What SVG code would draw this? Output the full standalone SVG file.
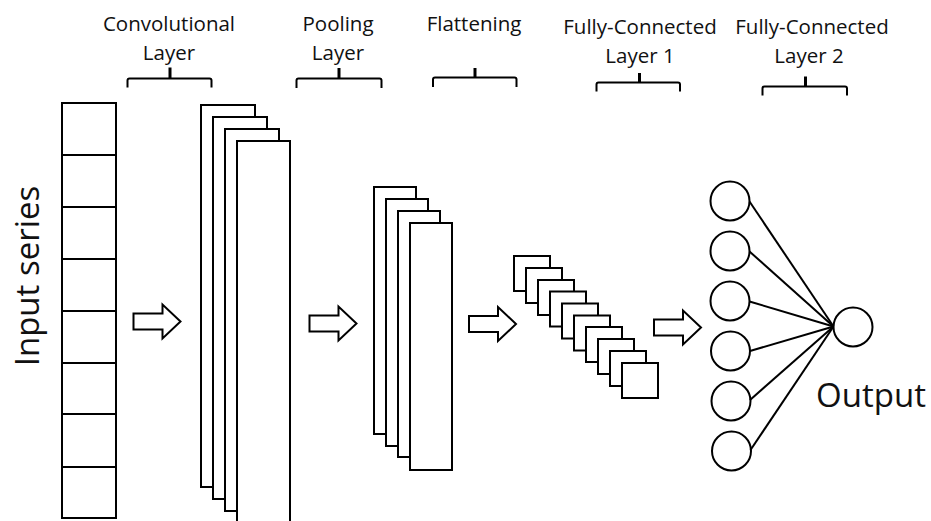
<svg xmlns="http://www.w3.org/2000/svg" xmlns:xlink="http://www.w3.org/1999/xlink" width="931" height="521" viewBox="0 0 931 521">
  <style>
    .box { fill: #ffffff; stroke: #000000; stroke-width: 2; }
    .node { fill: #ffffff; stroke: #000000; stroke-width: 2; }
    .brace { fill: none; stroke: #000000; stroke-width: 2; }
    .tick { fill: none; stroke: #000000; stroke-width: 3; }
    .link { stroke: #000000; stroke-width: 2; }
    .flow { fill: #ffffff; stroke: #000000; stroke-width: 2; stroke-linejoin: miter; }
    .lbl { font-family: "Open Sans", "Noto Sans", sans-serif; font-size: 20.5px; fill: #111111; text-anchor: middle; }
    .big { font-family: "Open Sans", "Noto Sans", sans-serif; font-size: 33px; fill: #111111; text-anchor: middle; }
  </style>
  <defs>
    <!-- hollow block arrow, origin at the middle of the tail -->
    <path id="blockArrow" d="M0,-8 L29,-8 L29,-17 L47,0 L29,17 L29,8 L0,8 Z"/>
    <rect id="sq" width="36" height="35"/>
  </defs>

  <rect width="931" height="521" fill="#ffffff"/>

  <!-- layer captions with braces -->
  <g id="captions">
    <text class="lbl" x="169" y="30.5">Convolutional</text>
    <text class="lbl" x="169" y="60">Layer</text>
    <text class="lbl" x="338" y="30.5">Pooling</text>
    <text class="lbl" x="338" y="60">Layer</text>
    <text class="lbl" x="474" y="30.5">Flattening</text>
    <text class="lbl" x="640" y="33.5">Fully-Connected</text>
    <text class="lbl" x="640" y="62.5">Layer 1</text>
    <text class="lbl" x="812" y="33.5">Fully-Connected</text>
    <text class="lbl" x="809" y="62.5">Layer 2</text>

    <path class="brace" d="M127.5,87.5 V80.5 Q127.5,78.5 129.5,78.5 H209.5 Q211.5,78.5 211.5,80.5 V87.5"/>
    <path class="tick" d="M170,78.5 V67.5"/>
    <path class="brace" d="M296.5,88 V80.5 Q296.5,78.5 298.5,78.5 H379.5 Q381.5,78.5 381.5,80.5 V88"/>
    <path class="tick" d="M339,78.5 V68"/>
    <path class="brace" d="M433,87 V79.5 Q433,77.5 435,77.5 H514.5 Q516.5,77.5 516.5,79.5 V87"/>
    <path class="tick" d="M475,77.5 V68"/>
    <path class="brace" d="M596.5,91.5 V84.5 Q596.5,82.5 598.5,82.5 H678 Q680,82.5 680,84.5 V91.5"/>
    <path class="tick" d="M639.5,82.5 V73"/>
    <path class="brace" d="M762.5,95.5 V88.5 Q762.5,86.5 764.5,86.5 H845 Q847,86.5 847,88.5 V95.5"/>
    <path class="tick" d="M805.5,86.5 V76.5"/>
  </g>

  <!-- input sequence -->
  <g id="input-series">
    <rect class="box" x="62" y="103" width="54" height="415"/>
    <path class="brace" d="M62,155 H116 M62,207 H116 M62,259 H116 M62,311 H116 M62,363 H116 M62,414 H116 M62,467 H116"/>
    <text class="big" transform="translate(38.5,276) rotate(-90)">Input series</text>
  </g>

  <!-- convolutional feature maps -->
  <g id="conv-layer">
    <rect class="box" x="201" y="105" width="54" height="382"/>
    <rect class="box" x="213" y="117" width="54" height="382"/>
    <rect class="box" x="225" y="129" width="54" height="382"/>
    <rect class="box" x="237" y="141" width="53" height="390"/>
  </g>

  <!-- pooled feature maps -->
  <g id="pooling-layer">
    <rect class="box" x="374" y="187" width="42" height="247"/>
    <rect class="box" x="386" y="199" width="42" height="247"/>
    <rect class="box" x="398" y="211" width="42" height="246"/>
    <rect class="box" x="410" y="223" width="42" height="247"/>
  </g>

  <!-- flattened vector -->
  <g id="flattening">
    <use xlink:href="#sq" class="box" x="514" y="256"/>
    <use xlink:href="#sq" class="box" x="526" y="268"/>
    <use xlink:href="#sq" class="box" x="538" y="280"/>
    <use xlink:href="#sq" class="box" x="550" y="291.5"/>
    <use xlink:href="#sq" class="box" x="562" y="303.5"/>
    <use xlink:href="#sq" class="box" x="574" y="315.5"/>
    <use xlink:href="#sq" class="box" x="586" y="327"/>
    <use xlink:href="#sq" class="box" x="598" y="339"/>
    <use xlink:href="#sq" class="box" x="610" y="351"/>
    <use xlink:href="#sq" class="box" x="622" y="363"/>
  </g>

  <!-- dense layer neurons -->
  <g id="fc-layer">
    <circle class="node" cx="730" cy="201" r="19.5"/>
    <circle class="node" cx="730" cy="251" r="19.5"/>
    <circle class="node" cx="730" cy="301" r="19.5"/>
    <circle class="node" cx="730.5" cy="351" r="19.5"/>
    <circle class="node" cx="731" cy="401" r="19.5"/>
    <circle class="node" cx="731.5" cy="451" r="19.5"/>
  </g>

  <g id="output">
    <circle class="node" cx="853" cy="327" r="19.5"/>
    <text class="big" x="871" y="406.5">Output</text>
  </g>

  <!-- flow arrows and weights -->
  <g id="connectors">
    <use xlink:href="#blockArrow" class="flow" transform="translate(133.5,321.5)"/>
    <use xlink:href="#blockArrow" class="flow" transform="translate(309.5,323.5)"/>
    <use xlink:href="#blockArrow" class="flow" transform="translate(469,324)"/>
    <use xlink:href="#blockArrow" class="flow" transform="translate(654,327.5)"/>

    <line class="link" x1="749.5" y1="201.5" x2="833.5" y2="326.5"/>
    <line class="link" x1="749.5" y1="251.5" x2="833.5" y2="326.5"/>
    <line class="link" x1="749.5" y1="301.5" x2="833.5" y2="326.5"/>
    <line class="link" x1="750" y1="351" x2="833.5" y2="326.5"/>
    <line class="link" x1="750" y1="400" x2="833.5" y2="326.5"/>
    <line class="link" x1="750.5" y1="450" x2="833.5" y2="326.5"/>
  </g>
</svg>
